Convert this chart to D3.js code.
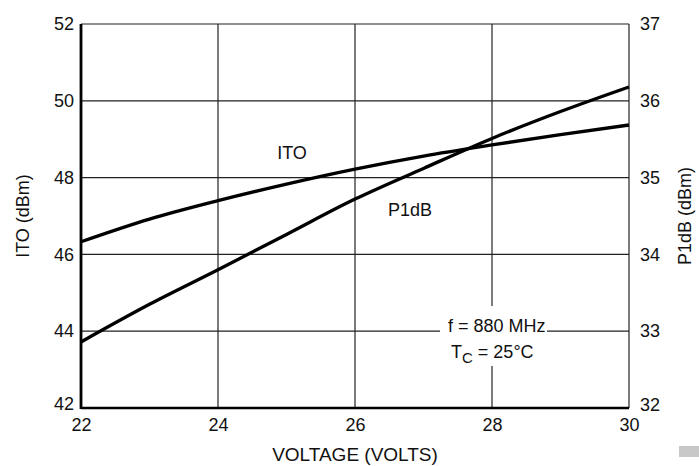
<!DOCTYPE html>
<html>
<head>
<meta charset="utf-8">
<script src="https://cdnjs.cloudflare.com/ajax/libs/d3/7.8.5/d3.min.js"></script>
<style>
  body { margin: 0; background: #fff; }
  text { font-family: "Liberation Sans", Arial, sans-serif; fill: #111; }
</style>
</head>
<body>
<div id="chart"></div>
<script>
// values
var voltage = [22, 23, 24, 25, 26, 27, 28, 29, 30];
var itoValues = [46.33, 46.92, 47.40, 47.83, 48.22, 48.56, 48.85, 49.12, 49.37];
var p1dbValues = [32.86, 33.35, 33.80, 34.26, 34.72, 35.12, 35.51, 35.86, 36.18];
var xTicks = [22, 24, 26, 28, 30];
var itoTicks = [42, 44, 46, 48, 50, 52];
var p1dbTicks = [32, 33, 34, 35, 36, 37];

var width = 699;
var height = 466;
var margin = {top: 24, right: 70, bottom: 58, left: 81};
var fontSize = '18px';

var svg = d3.select('#chart')
  .append('svg')
  .attr('width', width)
  .attr('height', height);

var x = d3.scaleLinear().domain([22, 30]).range([margin.left, width - margin.right]);
var yLeft = d3.scaleLinear().domain([42, 52]).range([height - margin.bottom, margin.top]);
var yRight = d3.scaleLinear().domain([32, 37]).range([height - margin.bottom, margin.top]);

// grid lines
var grid = svg.append('g');
grid.selectAll('.vgrid')
  .data(xTicks)
  .enter()
  .append('line')
  .attr('x1', function(d) { return x(d); })
  .attr('x2', function(d) { return x(d); })
  .attr('y1', yLeft(42))
  .attr('y2', yLeft(52))
  .attr('stroke', '#222')
  .attr('stroke-width', 1.2);
grid.selectAll('.hgrid')
  .data(itoTicks)
  .enter()
  .append('line')
  .attr('x1', x(22))
  .attr('x2', x(30))
  .attr('y1', function(d) { return yLeft(d); })
  .attr('y2', function(d) { return yLeft(d); })
  .attr('stroke', '#222')
  .attr('stroke-width', 1.2);

// thick left and bottom axis lines
svg.append('line')
  .attr('x1', x(22)).attr('x2', x(22))
  .attr('y1', yLeft(52)).attr('y2', yLeft(42) + 1)
  .attr('stroke', '#000').attr('stroke-width', 2.8);
svg.append('line')
  .attr('x1', x(22)).attr('x2', x(30))
  .attr('y1', yLeft(42)).attr('y2', yLeft(42))
  .attr('stroke', '#000').attr('stroke-width', 2.4);

// axes (labels only, the lines are drawn above)
var xAxis = svg.append('g')
  .attr('transform', 'translate(0,' + (height - margin.bottom) + ')')
  .call(d3.axisBottom(x).tickValues(xTicks).tickFormat(d3.format('d')).tickSize(0).tickPadding(10));
var leftAxis = svg.append('g')
  .attr('transform', 'translate(' + margin.left + ',0)')
  .call(d3.axisLeft(yLeft).tickValues(itoTicks).tickFormat(d3.format('d')).tickSize(0).tickPadding(7));
var rightAxis = svg.append('g')
  .attr('transform', 'translate(' + (width - margin.right) + ',0)')
  .call(d3.axisRight(yRight).tickValues(p1dbTicks).tickFormat(d3.format('d')).tickSize(0).tickPadding(11));

[xAxis, leftAxis, rightAxis].forEach(function(a) {
  a.select('.domain').remove();
  a.selectAll('text')
    .style('font-size', fontSize)
    .attr('fill', '#111');
});
// the bottom corner labels sit a bit off the corner
leftAxis.selectAll('text').filter(function(d) { return d === 42; }).attr('dy', '0.1em');
rightAxis.selectAll('text').filter(function(d) { return d === 32; }).attr('dy', '0.15em');

// box around the text note, hides the grid there
svg.append('rect')
  .attr('x', 440)
  .attr('y', 306)
  .attr('width', 107)
  .attr('height', 60)
  .attr('fill', '#fff');

// the two curves
var itoLine = d3.line()
  .x(function(d, i) { return x(voltage[i]); })
  .y(function(d) { return yLeft(d); })
  .curve(d3.curveMonotoneX);
var p1dbLine = d3.line()
  .x(function(d, i) { return x(voltage[i]); })
  .y(function(d) { return yRight(d); })
  .curve(d3.curveMonotoneX);

svg.append('path')
  .attr('d', itoLine(itoValues))
  .attr('fill', 'none')
  .attr('stroke', '#000')
  .attr('stroke-width', 3.3);
svg.append('path')
  .attr('d', p1dbLine(p1dbValues))
  .attr('fill', 'none')
  .attr('stroke', '#000')
  .attr('stroke-width', 3.3);

// labels on curves
svg.append('text')
  .attr('x', 292).attr('y', 159)
  .attr('text-anchor', 'middle')
  .style('font-size', fontSize)
  .text('ITO');
svg.append('text')
  .attr('x', 410).attr('y', 216)
  .attr('text-anchor', 'middle')
  .style('font-size', fontSize)
  .text('P1dB');

// conditions note
svg.append('text')
  .attr('x', 448).attr('y', 332)
  .style('font-size', fontSize)
  .text('f = 880 MHz');
var tc = svg.append('text')
  .attr('x', 451).attr('y', 358)
  .style('font-size', fontSize);
tc.append('tspan').text('T');
tc.append('tspan').attr('dy', 5).style('font-size', '15px').text('C');
tc.append('tspan').attr('dy', -5).text(' = 25\u00B0C');

// axis titles
svg.append('text')
  .attr('x', (margin.left + width - margin.right) / 2)
  .attr('y', 461)
  .attr('text-anchor', 'middle')
  .style('font-size', '19px')
  .text('VOLTAGE (VOLTS)');
svg.append('text')
  .attr('transform', 'translate(29,216) rotate(-90)')
  .attr('text-anchor', 'middle')
  .style('font-size', fontSize)
  .text('ITO (dBm)');
svg.append('text')
  .attr('transform', 'translate(691,216) rotate(-90)')
  .attr('text-anchor', 'middle')
  .style('font-size', fontSize)
  .text('P1dB (dBm)');

// small grey mark at the lower right
svg.append('rect')
  .attr('x', 679).attr('y', 446)
  .attr('width', 20).attr('height', 11)
  .attr('fill', '#c8c8c8');
</script>
</body>
</html>
